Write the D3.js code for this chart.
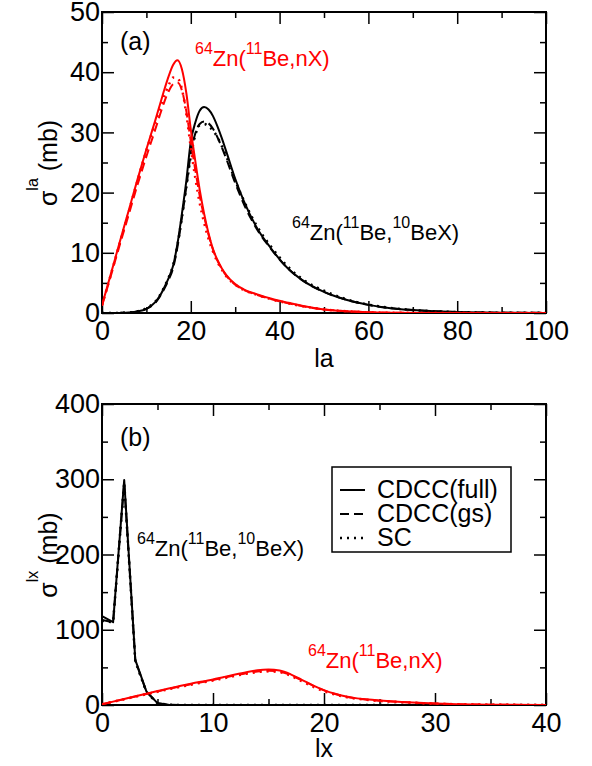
<!DOCTYPE html>
<html><head><meta charset="utf-8">
<script src="https://cdn.jsdelivr.net/npm/d3@7"></script>
<style>
body{margin:0;background:#fff}
text{font-family:"Liberation Sans",Arial,Helvetica,sans-serif}
</style>
</head><body>
<svg id="c" width="592" height="766"></svg>
<script>
// ---------- Panel (a): la distribution ----------
const laKnots = [0,2,4,6,8,10,12,13,14,15,16,17,18,19,20,21,22,23,24,25,26,27,28,30,32,35,38,42,45,50,55,60,65,70,80,90,100];
const nxFullA = [1.3,6.5,11.8,17,22.2,27.2,32,34.5,37,39.3,41.2,42,40.5,36.5,30.5,25.3,20.5,16.5,13.2,10.6,8.8,7.4,6.3,4.8,3.9,3.1,2.4,1.7,1.2,0.6,0.3,0.12,0.05,0.02,0,0,0];
const nxGsA   = [1.2,6.2,11.3,16.3,21.3,26,30.5,32.8,35,36.8,38,38.3,37,33.5,28.5,23.8,19.5,16,13,10.5,8.7,7.3,6.2,4.7,3.8,3.0,2.3,1.6,1.15,0.6,0.3,0.12,0.05,0.02,0,0,0];
const nxScA   = [1.3,6.4,11.6,16.8,22,27,31.6,33.8,36,37.8,39.1,39,37.2,33,27.5,22.5,18.3,15,12.3,10.2,8.5,7.2,6.1,4.7,3.8,3.0,2.3,1.6,1.15,0.6,0.3,0.12,0.05,0.02,0,0,0];
const beFullA = [0,0,0.02,0.08,0.25,0.7,1.8,2.8,4.2,5.8,7.8,11.5,16.5,22,28.5,31.6,33.6,34.2,33.8,32.7,31,29,26.8,22.3,18.5,14,10.8,7.3,5.5,3.5,2.2,1.35,0.8,0.5,0.15,0.05,0.02];
const beGsA   = [0,0,0.02,0.08,0.25,0.7,1.7,2.7,4,5.5,7.4,11,15.8,21,26.5,29.8,31.4,31.8,31.5,30.6,29.2,27.5,25.6,21.6,18,13.8,10.7,7.3,5.5,3.5,2.2,1.35,0.8,0.5,0.15,0.05,0.02];
const beScA   = [0,0,0.02,0.08,0.3,0.8,1.9,2.9,4.3,5.9,7.9,11.3,16,21,26,29.5,31.2,31.4,31,30.3,29.2,27.7,26,22,18.6,14.3,11.1,7.6,5.7,3.7,2.3,1.4,0.85,0.5,0.15,0.05,0.02];
const xTicksA = [0,20,40,60,80,100];
const xMinorA = [10,30,50,70,90];
const yTicksA = [0,10,20,30,40,50];
const yMinorA = [5,15,25,35,45];

// ---------- Panel (b): lx distribution ----------
const lxKnots = [0,1,2,3,4,5,6,7,8,10,11,12,13,14,15,16,17,18,19,20,21,22,23,24,25,26,27,28,30,32,35,40];
const beFullB = [118,110,299,60,18,2.5,0.4,0.05,0,0,0,0,0,0,0,0,0,0,0,0,0,0,0,0,0,0,0,0,0,0,0,0];
const beGsB   = [113,110,295,59,17.5,2.4,0.4,0.05,0,0,0,0,0,0,0,0,0,0,0,0,0,0,0,0,0,0,0,0,0,0,0,0];
const beScB   = [112,110,296,58,17,2.3,0.4,0.05,0,0,0,0,0,0,0,0,0,0,0,0,0,0,0,0,0,0,0,0,0,0,0,0];
const nxFullB = [1,4.5,8,11.5,15,18.5,22,25.2,28.3,34,37.3,40.5,43.5,46.1,47.1,45.8,40.8,33.5,26.2,19.8,14.9,11.3,8.8,7.2,6,4.9,4,3.2,2,1.1,0.4,0.05];
const nxGsB   = [1,4.4,7.8,11.2,14.6,18,21.4,24.5,27.6,33.2,36.4,39.5,42.3,44.6,45.6,44.5,39.8,32.8,25.8,19.5,14.6,11.1,8.6,7,5.8,4.8,3.9,3.1,1.9,1.05,0.38,0.05];
const nxScB   = [1,4.3,7.6,11,14.3,17.6,21,24,27,32.6,35.7,38.7,41.5,43.7,44.7,43.6,38.8,31.6,24.5,18.3,13.8,10.5,8.2,6.6,5.4,4.5,3.7,3,1.8,1,0.35,0.05];
const xTicksB = [0,10,20,30,40];
const xMinorB = [5,15,25,35];
const yTicksB = [0,100,200,300,400];
const yMinorB = [50,150,250,350];

const legendLabels = ["CDCC(full)","CDCC(gs)","SC"];
const styles = {
  full:{dash:null, w:2},
  gs:{dash:"9,5", w:2},
  sc:{dash:"2,5", w:2.5}
};

const svg = d3.select("#c");
const FS = 25;
const TFS = 27;

function panel(id, x, y, xT, xM, yT, yM) {
  const g = svg.append("g");
  const [x0,x1] = x.range(), [y0,y1] = y.range();
  const defs = svg.append("defs");
  defs.append("clipPath").attr("id", id).append("rect")
    .attr("x", x0).attr("y", y1).attr("width", x1-x0).attr("height", y0-y1);
  const style = sel => {
    sel.select(".domain").remove();
    sel.selectAll(".tick line").attr("stroke","#000").attr("stroke-width",1.5);
    sel.selectAll("text").attr("font-size",TFS).attr("fill","#000")
      .attr("font-family",'"Liberation Sans",Arial,sans-serif');
  };
  g.append("g").attr("transform",`translate(0,${y0})`)
    .call(d3.axisBottom(x).tickValues(xT).tickSize(-12).tickPadding(8).tickFormat(d3.format("d"))).call(style);
  g.append("g").attr("transform",`translate(0,${y0})`)
    .call(d3.axisBottom(x).tickValues(xM).tickSize(-6).tickFormat("")).call(style);
  g.append("g").attr("transform",`translate(0,${y1})`)
    .call(d3.axisTop(x).tickValues(xT).tickSize(-12).tickFormat("")).call(style);
  g.append("g").attr("transform",`translate(0,${y1})`)
    .call(d3.axisTop(x).tickValues(xM).tickSize(-6).tickFormat("")).call(style);
  g.append("g").attr("transform",`translate(${x0},0)`)
    .call(d3.axisLeft(y).tickValues(yT).tickSize(-12).tickPadding(2).tickFormat(d3.format("d"))).call(style);
  g.append("g").attr("transform",`translate(${x0},0)`)
    .call(d3.axisLeft(y).tickValues(yM).tickSize(-6).tickFormat("")).call(style);
  g.append("g").attr("transform",`translate(${x1},0)`)
    .call(d3.axisRight(y).tickValues(yT).tickSize(-12).tickFormat("")).call(style);
  g.append("g").attr("transform",`translate(${x1},0)`)
    .call(d3.axisRight(y).tickValues(yM).tickSize(-6).tickFormat("")).call(style);
  g.append("rect").attr("x",x0).attr("y",y1).attr("width",x1-x0).attr("height",y0-y1)
    .attr("fill","none").attr("stroke","#000").attr("stroke-width",2);
  return g;
}

function drawSeries(clipId, x, y, xs, ys, color, st, curve) {
  const line = d3.line().x((d,i)=>x(xs[i])).y(d=>y(d)).curve(curve);
  svg.append("path").attr("clip-path",`url(#${clipId})`)
    .attr("d", line(ys)).attr("fill","none").attr("stroke",color)
    .attr("stroke-width",st.w).attr("stroke-dasharray",st.dash)
    .attr("stroke-linejoin","round");
}

function label(x, y, parts, color, size, supSize) {
  const t = svg.append("text").attr("x",x).attr("y",y).attr("fill",color).attr("font-size",size);
  let raised = false;
  parts.forEach(p => {
    const sp = t.append("tspan").text(p.t);
    if (p.sup && !raised) { sp.attr("dy",-12).attr("font-size",supSize); raised = true; }
    else if (p.sup && raised) { sp.attr("font-size",supSize); }
    else if (!p.sup && raised) { sp.attr("dy",12); raised = false; }
  });
  return t;
}

// ---------- Panel (a) ----------
const xA = d3.scaleLinear().domain([0,100]).range([102,546]);
const yA = d3.scaleLinear().domain([0,50]).range([313,12]);
panel("clipA", xA, yA, xTicksA, xMinorA, yTicksA, yMinorA);
drawSeries("clipA", xA, yA, laKnots, beFullA, "#000", styles.full, d3.curveMonotoneX);
drawSeries("clipA", xA, yA, laKnots, beGsA, "#000", styles.gs, d3.curveMonotoneX);
drawSeries("clipA", xA, yA, laKnots, beScA, "#000", styles.sc, d3.curveMonotoneX);
drawSeries("clipA", xA, yA, laKnots, nxFullA, "#ff0000", styles.full, d3.curveMonotoneX);
drawSeries("clipA", xA, yA, laKnots, nxGsA, "#ff0000", styles.gs, d3.curveMonotoneX);
drawSeries("clipA", xA, yA, laKnots, nxScA, "#ff0000", styles.sc, d3.curveMonotoneX);

// ---------- Panel (b) ----------
const xB = d3.scaleLinear().domain([0,40]).range([102,546]);
const yB = d3.scaleLinear().domain([0,400]).range([705,404]);
panel("clipB", xB, yB, xTicksB, xMinorB, yTicksB, yMinorB);
drawSeries("clipB", xB, yB, lxKnots, beFullB, "#000", styles.full, d3.curveLinear);
drawSeries("clipB", xB, yB, lxKnots, beGsB, "#000", styles.gs, d3.curveLinear);
drawSeries("clipB", xB, yB, lxKnots, beScB, "#000", styles.sc, d3.curveLinear);
drawSeries("clipB", xB, yB, lxKnots, nxFullB, "#ff0000", styles.full, d3.curveMonotoneX);
drawSeries("clipB", xB, yB, lxKnots, nxGsB, "#ff0000", styles.gs, d3.curveMonotoneX);
drawSeries("clipB", xB, yB, lxKnots, nxScB, "#ff0000", styles.sc, d3.curveMonotoneX);

// ---------- Axis titles ----------
svg.append("text").attr("x",324).attr("y",367).attr("text-anchor","middle").attr("font-size",FS).text("la");
svg.append("text").attr("x",324).attr("y",757).attr("text-anchor","middle").attr("font-size",FS).text("lx");

function yTitle(cy, sup) {
  const t = svg.append("text").attr("transform",`translate(57,${cy}) rotate(-90)`)
    .attr("text-anchor","middle").attr("font-size",FS);
  t.append("tspan").text("σ");
  t.append("tspan").attr("dy",-19).attr("font-size",16).text(sup);
  t.append("tspan").attr("dy",19).text(" (mb)");
}
yTitle(163, "la");
yTitle(555, "lx");

// ---------- Panel labels ----------
svg.append("text").attr("x",120).attr("y",50).attr("font-size",FS).text("(a)");
svg.append("text").attr("x",120).attr("y",446).attr("font-size",FS).text("(b)");

label(195, 66, [{t:"64",sup:true},{t:"Zn("},{t:"11",sup:true},{t:"Be,nX)"}], "#ff0000", 22, 16);
label(292, 240, [{t:"64",sup:true},{t:"Zn("},{t:"11",sup:true},{t:"Be,"},{t:"10",sup:true},{t:"BeX)"}], "#000", 22, 16);
label(137, 556, [{t:"64",sup:true},{t:"Zn("},{t:"11",sup:true},{t:"Be,"},{t:"10",sup:true},{t:"BeX)"}], "#000", 22, 16);
label(308, 668, [{t:"64",sup:true},{t:"Zn("},{t:"11",sup:true},{t:"Be,nX)"}], "#ff0000", 22, 16);

// ---------- Legend ----------
const lg = svg.append("g");
lg.append("rect").attr("x",332).attr("y",467).attr("width",179).attr("height",85)
  .attr("fill","#fff").attr("stroke","#000").attr("stroke-width",1.5);
const legKeys = ["full","gs","sc"];
const legBase = [498,522,546];
legendLabels.forEach((lab,i) => {
  const st = styles[legKeys[i]];
  lg.append("line").attr("x1",340).attr("x2",365).attr("y1",legBase[i]-8).attr("y2",legBase[i]-8)
    .attr("stroke","#000").attr("stroke-width",st.w).attr("stroke-dasharray",st.dash);
  lg.append("text").attr("x",377).attr("y",legBase[i]).attr("font-size",25).text(lab);
});
</script>
</body></html>
